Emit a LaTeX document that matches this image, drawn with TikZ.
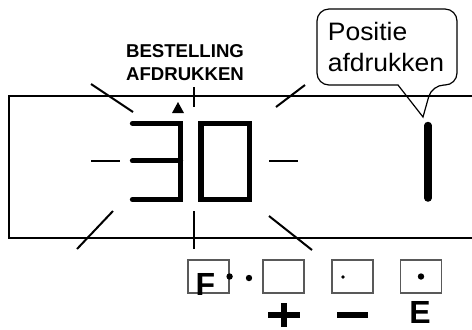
\documentclass[tikz,border=0pt]{standalone}
\usepackage{fontspec}
\setmainfont{Liberation Sans}
\newfontfamily\calloutfont[FakeStretch=1.05]{Liberation Sans}

\begin{document}
\begin{tikzpicture}[
   x=0.5pt,y=-0.5pt,
   seg/.style={line width=2.65pt,line cap=round},
   ray/.style={line width=1pt},
   frame/.style={line width=1.25pt},
   keybox/.style={draw=black!65,line width=0.6pt,minimum width=20.5pt,minimum height=16.5pt,inner sep=0pt},
   keyfont/.style={font=\fontsize{16}{16}\selectfont\bfseries,inner sep=0pt},
   sign/.style={line width=2.6pt}
 ]
  \useasboundingbox (0,0) rectangle (472,329);
  \clip (0,0) rectangle (472,329);

  % display window
  \draw[frame] (9,96) rectangle (490,238);

  % digits 3 0 and 1
  \draw[seg] (132.5,123.3) -- (180.5,123.3) -- (180.5,199.5) -- (132.5,199.5);
  \draw[seg] (132.5,160.8) -- (180.5,160.8);
  \draw[seg] (201,123.3) rectangle (249.7,199.5);
  \draw[seg,line width=3.75pt] (428,125.5) -- (428,198);

  % blinking rays
  \draw[ray] (91,84) -- (133,112);
  \draw[ray] (194,87) -- (194,107);
  \draw[ray] (305,85) -- (276,107);
  \draw[ray] (91,161) -- (120,161);
  \draw[ray] (269,161) -- (298,161);
  \draw[ray] (113,211) -- (77,249);
  \draw[ray] (194,211) -- (194,249);
  \draw[ray] (269,216) -- (312,250);

  \fill (172,113) -- (184,113) -- (178,102) -- cycle;
  \node[font=\fontsize{9.3}{11.5}\selectfont\bfseries,align=center] (order) at (185,63) {BESTELLING\\AFDRUKKEN};

  % callout
  \draw[line width=0.6pt] (398,85) [rounded corners=6pt] -- (317,85) -- (317,9) -- (457,9) -- (457,85) -- (432,85) [sharp corners] -- (423,117) -- cycle;
  \node[font=\calloutfont\fontsize{12.6}{15.5}\selectfont,align=left] (pos) at (386,47) {Positie\\afdrukken};

  % keys
  \node[keybox] (kF) at (208.5,276.5) {};
  \node[keybox] (kplus) at (283.5,276.5) {};
  \node[keybox] (kminus) at (352.5,276.5) {};
  \node[keybox] (kE) at (421,276.5) {};
  \fill (kF.east) circle (1.6pt);
  \fill (249,278) circle (1.6pt);
  \fill (343,277) circle (0.9pt);
  \fill (kE.center) circle (1.6pt);

  \node[keyfont] (lF) at (205.5,284) {F};
  \node[keyfont] (lE) at (420,312.5) {E};
  \draw[sign] (268,315) -- (300,315);
  \draw[sign] (284,303) -- (284,327);
  \draw[sign] (337,315) -- (368,315);
 \end{tikzpicture}
\end{document}
